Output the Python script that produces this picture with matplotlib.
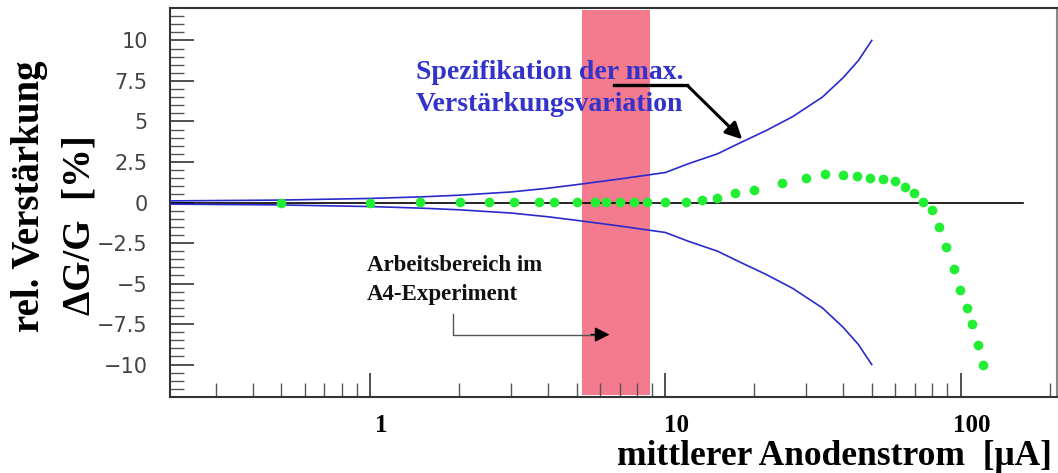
import matplotlib.pyplot as plt
from matplotlib.ticker import FixedLocator, NullFormatter
from matplotlib.transforms import ScaledTranslation

# Spezifikation der max. Verstärkungsvariation (obere Kurve, untere symmetrisch)
spec_strom = [0.21, 0.3, 0.5, 0.7, 1.0, 1.5, 2.0, 3.0, 4.0, 5.0, 7.0, 10.0, 12.0, 15.0, 18.0, 22.0, 27.0, 34.0, 40.0, 45.0, 50.0]
spec_oben = [0.1, 0.12, 0.15, 0.2, 0.25, 0.35, 0.45, 0.65, 0.88, 1.1, 1.45, 1.85, 2.4, 3.0, 3.7, 4.45, 5.3, 6.5, 7.7, 8.75, 10.0]
spec_unten = [-v for v in spec_oben]

# gemessene relative Verstärkungsänderung
mess_strom = [0.5, 1.0, 1.48, 2.01, 2.52, 3.08, 3.72, 4.21, 5.02, 5.76, 6.29, 7.02, 7.80, 8.69,
              10.0, 11.7, 13.3, 15.0, 17.2, 20.0, 24.9, 29.9, 34.8, 40.0, 44.5, 49.5, 54.5, 59.8,
              64.8, 69.5, 74.8, 80.0, 84.5, 89.5, 94.9, 99.8, 105.0, 109.5, 114.4, 119.3]
mess_dg = [0.0, 0.0, 0.05, 0.05, 0.05, 0.05, 0.05, 0.05, 0.05, 0.05, 0.05, 0.05, 0.05, 0.05,
           0.05, 0.06, 0.16, 0.28, 0.57, 0.8, 1.19, 1.54, 1.74, 1.70, 1.64, 1.54, 1.48, 1.35,
           0.96, 0.57, 0.06, -0.45, -1.5, -2.77, -4.12, -5.4, -6.5, -7.47, -8.82, -10.0]

arbeitsbereich = [5.2, 8.9]
x_ticks = [1, 10, 100]
y_ticks = [-10, -7.5, -5, -2.5, 0, 2.5, 5, 7.5, 10]
y_labels = ['\u221210', '\u22127.5', '\u22125', '\u22122.5', '0', '2.5', '5', '7.5', '10']

serif = ['Liberation Serif', 'DejaVu Serif']

fig = plt.figure(figsize=(10.58, 4.73), dpi=100)
ax = fig.add_axes([170 / 1058, 1 - 397 / 473, 887 / 1058, 389 / 473])

ax.axvspan(arbeitsbereich[0], arbeitsbereich[1], ymin=0.004, ymax=0.996,
           color='#f47a8e', lw=0, zorder=1)
ax.plot([0.21, 163], [0, 0], color='black', lw=1.2, zorder=2)
ax.plot(spec_strom, spec_oben, color='#2a2acc', lw=1.2, zorder=3)
ax.plot(spec_strom, spec_unten, color='#2a2acc', lw=1.2, zorder=3)
ax.plot(mess_strom, mess_dg, 'o', color='#22ee33', ms=7, mec='none', zorder=4)

ax.set_xscale('log')
ax.set_xlim(0.21, 212)
ax.set_ylim(-12, 12)

ax.xaxis.set_major_locator(FixedLocator(x_ticks))
ax.xaxis.set_minor_locator(FixedLocator([m * 10.0 ** e for e in (-1, 0, 1, 2) for m in range(2, 10)
                                         if 0.21 < m * 10.0 ** e < 212]))
ax.xaxis.set_minor_formatter(NullFormatter())
ax.set_xticklabels(['1', '10', '100'], family=serif, fontweight='bold', fontsize=18)
ax.set_yticks(y_ticks)
ax.set_yticks([v / 2 for v in range(-23, 24)], minor=True)
ax.set_yticklabels(y_labels, family='DejaVu Sans', fontsize=15, color='#444444')

ax.tick_params(which='major', direction='in', length=17, width=1.2, color='#333333')
ax.tick_params(which='minor', direction='in', length=10, width=1.0, color='#555555')
ax.tick_params(axis='x', pad=12)
ax.tick_params(axis='y', pad=16)
for lab in ax.get_xticklabels():
    lab.set_transform(lab.get_transform() + ScaledTranslation(8 / 72, 0, fig.dpi_scale_trans))

for s in ['left', 'bottom', 'top']:
    ax.spines[s].set_color('#333333')
    ax.spines[s].set_linewidth(1.5)
ax.spines['right'].set_color('#888888')
ax.spines['right'].set_linewidth(1.5)

ax.text(1.43, 7.59, 'Spezifikation der max.', family=serif, fontweight='bold',
        fontsize=20, color='#3333cc', va='baseline', ha='left', zorder=5)
ax.text(1.43, 5.62, 'Verstärkungsvariation', family=serif, fontweight='bold',
        fontsize=20, color='#3333cc', va='baseline', ha='left', zorder=5)
ax.plot([6.72, 11.87], [7.22, 7.22], color='black', lw=2.4, zorder=6)
ax.annotate('', xy=(18.2, 3.9), xytext=(11.87, 7.22),
            arrowprops=dict(arrowstyle='-|>,head_length=1.0,head_width=0.5',
                            color='black', lw=2.2, shrinkA=0, shrinkB=0), zorder=6)

ax.text(0.975, -4.21, 'Arbeitsbereich im', family=serif, fontweight='bold',
        fontsize=16.5, color='#111111', va='baseline', ha='left', zorder=5)
ax.text(0.975, -6.01, 'A4-Experiment', family=serif, fontweight='bold',
        fontsize=16.5, color='#111111', va='baseline', ha='left', zorder=5)
ax.plot([1.91, 1.91, 6.0], [-6.87, -8.15, -8.15], color='#555555', lw=1.0, zorder=6)
ax.annotate('', xy=(6.47, -8.15), xytext=(5.6, -8.15),
            arrowprops=dict(arrowstyle='-|>,head_length=0.9,head_width=0.45',
                            color='black', lw=1.0, shrinkA=0, shrinkB=0), zorder=6)

fig.text(1052 / 1058, 1 - 465 / 473, 'mittlerer Anodenstrom  [\u03bcA]', family=serif,
         fontweight='bold', fontsize=25.5, ha='right', va='baseline')
fig.text(30 / 1058, 1 - 196 / 473, 'rel. Verstärkung', family=serif,
         fontweight='bold', fontsize=28, rotation=90, ha='center', va='center')
fig.text(80 / 1058, 1 - 225 / 473, '\u0394G/G  [%]', family=serif,
         fontweight='bold', fontsize=28, rotation=90, ha='center', va='center')

fig.savefig('out.png', dpi=100)
